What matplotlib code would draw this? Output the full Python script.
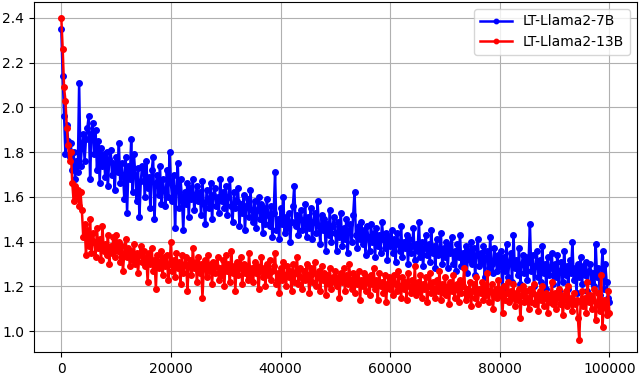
import numpy as np
import matplotlib
matplotlib.use('Agg')
import matplotlib.pyplot as plt

# logging steps (every 250 iterations)
steps = np.arange(0, 100001, 250)

# training loss, LT-Llama2-7B
loss_7b = [
    2.35, 2.14, 1.96, 1.79, 1.92, 1.85, 1.78, 1.84, 1.72, 1.80, 1.68, 1.76, 1.71, 2.11, 1.74, 1.82, 1.88, 1.76, 1.86, 1.91,
    1.96, 1.68, 1.88, 1.93, 1.79, 1.90, 1.72, 1.85, 1.66, 1.82, 1.74, 1.79, 1.69, 1.80, 1.65, 1.77, 1.81, 1.70, 1.75, 1.63,
    1.78, 1.71, 1.84, 1.66, 1.75, 1.70, 1.59, 1.78, 1.53, 1.74, 1.68, 1.86, 1.62, 1.79, 1.70, 1.58, 1.73, 1.51, 1.67, 1.74,
    1.71, 1.60, 1.76, 1.64, 1.69, 1.55, 1.72, 1.78, 1.50, 1.66, 1.70, 1.61, 1.74, 1.57, 1.68, 1.63, 1.56, 1.72, 1.60, 1.80,
    1.66, 1.58, 1.70, 1.46, 1.64, 1.75, 1.55, 1.68, 1.60, 1.45, 1.62, 1.57, 1.66, 1.51, 1.64, 1.59, 1.68, 1.54, 1.61, 1.65,
    1.58, 1.62, 1.52, 1.67, 1.57, 1.48, 1.63, 1.59, 1.55, 1.66, 1.50, 1.61, 1.64, 1.56, 1.60, 1.53, 1.68, 1.58, 1.62, 1.55,
    1.65, 1.52, 1.60, 1.68, 1.56, 1.49, 1.62, 1.55, 1.58, 1.64, 1.47, 1.57, 1.53, 1.61, 1.45, 1.56, 1.59, 1.51, 1.63, 1.54,
    1.49, 1.58, 1.46, 1.54, 1.60, 1.50, 1.57, 1.44, 1.55, 1.48, 1.59, 1.52, 1.47, 1.56, 1.42, 1.53, 1.71, 1.45, 1.50, 1.41,
    1.55, 1.48, 1.60, 1.44, 1.51, 1.46, 1.53, 1.40, 1.49, 1.56, 1.65, 1.47, 1.52, 1.43, 1.50, 1.54, 1.45, 1.48, 1.57, 1.42,
    1.51, 1.46, 1.55, 1.41, 1.49, 1.53, 1.44, 1.58, 1.47, 1.39, 1.52, 1.45, 1.50, 1.36, 1.48, 1.43, 1.54, 1.40, 1.47, 1.51,
    1.44, 1.36, 1.49, 1.42, 1.53, 1.38, 1.46, 1.41, 1.50, 1.35, 1.45, 1.48, 1.40, 1.52, 1.62, 1.43, 1.37, 1.47, 1.41, 1.49,
    1.39, 1.45, 1.34, 1.47, 1.42, 1.36, 1.48, 1.40, 1.44, 1.33, 1.46, 1.38, 1.43, 1.35, 1.49, 1.41, 1.37, 1.44, 1.32, 1.42,
    1.38, 1.45, 1.35, 1.41, 1.31, 1.44, 1.39, 1.36, 1.47, 1.33, 1.40, 1.37, 1.43, 1.30, 1.41, 1.35, 1.38, 1.46, 1.32, 1.39,
    1.36, 1.49, 1.33, 1.40, 1.29, 1.37, 1.43, 1.34, 1.39, 1.31, 1.45, 1.35, 1.38, 1.28, 1.41, 1.34, 1.36, 1.44, 1.30, 1.37,
    1.33, 1.40, 1.28, 1.38, 1.35, 1.42, 1.30, 1.36, 1.27, 1.39, 1.33, 1.43, 1.29, 1.35, 1.31, 1.38, 1.26, 1.36, 1.32, 1.40,
    1.30, 1.37, 1.25, 1.34, 1.41, 1.29, 1.35, 1.31, 1.38, 1.24, 1.33, 1.36, 1.28, 1.42, 1.30, 1.26, 1.37, 1.32, 1.27, 1.34,
    1.29, 1.36, 1.18, 1.33, 1.27, 1.39, 1.24, 1.31, 1.35, 1.22, 1.43, 1.28, 1.32, 1.25, 1.37, 1.21, 1.30, 1.34, 1.26, 1.33,
    1.23, 1.31, 1.48, 1.27, 1.34, 1.20, 1.29, 1.36, 1.24, 1.32, 1.22, 1.38, 1.26, 1.30, 1.19, 1.33, 1.25, 1.28, 1.35, 1.21,
    1.30, 1.24, 1.34, 1.18, 1.27, 1.31, 1.22, 1.36, 1.25, 1.29, 1.19, 1.32, 1.26, 1.40, 1.23, 1.28, 1.17, 1.30, 1.24, 1.33,
    1.21, 1.29, 1.25, 1.31, 1.18, 1.27, 1.30, 1.22, 1.26, 1.20, 1.39, 1.24, 1.28, 1.16, 1.25, 1.36, 1.19, 1.30, 1.22, 1.15,
    1.13,
]

# training loss, LT-Llama2-13B
loss_13b = [
    2.40, 2.26, 2.09, 2.03, 1.91, 1.83, 1.76, 1.80, 1.66, 1.58, 1.65, 1.60, 1.63, 1.56, 1.62, 1.54, 1.42, 1.48, 1.34, 1.45,
    1.38, 1.50, 1.35, 1.44, 1.40, 1.33, 1.46, 1.37, 1.41, 1.32, 1.47, 1.36, 1.39, 1.34, 1.43, 1.30, 1.38, 1.35, 1.42, 1.33,
    1.43, 1.36, 1.40, 1.31, 1.38, 1.27, 1.35, 1.41, 1.33, 1.37, 1.29, 1.36, 1.32, 1.39, 1.30, 1.35, 1.26, 1.34, 1.38, 1.31,
    1.36, 1.29, 1.33, 1.22, 1.35, 1.30, 1.37, 1.27, 1.32, 1.19, 1.34, 1.28, 1.31, 1.36, 1.25, 1.33, 1.29, 1.34, 1.23, 1.30,
    1.40, 1.27, 1.32, 1.24, 1.35, 1.28, 1.31, 1.21, 1.34, 1.26, 1.30, 1.33, 1.18, 1.29, 1.32, 1.25, 1.37, 1.28, 1.31, 1.22,
    1.33, 1.26, 1.30, 1.15, 1.28, 1.32, 1.24, 1.34, 1.27, 1.30, 1.21, 1.31, 1.26, 1.29, 1.33, 1.23, 1.28, 1.25, 1.32, 1.20,
    1.34, 1.27, 1.30, 1.22, 1.36, 1.26, 1.29, 1.18, 1.31, 1.25, 1.28, 1.33, 1.21, 1.30, 1.26, 1.29, 1.23, 1.35, 1.24, 1.28,
    1.22, 1.31, 1.26, 1.29, 1.19, 1.27, 1.33, 1.24, 1.28, 1.20, 1.30, 1.25, 1.32, 1.23, 1.27, 1.29, 1.35, 1.21, 1.26, 1.17,
    1.28, 1.23, 1.31, 1.25, 1.20, 1.29, 1.24, 1.27, 1.18, 1.30, 1.22, 1.26, 1.33, 1.21, 1.28, 1.24, 1.19, 1.27, 1.23, 1.30,
    1.25, 1.17, 1.28, 1.22, 1.26, 1.31, 1.20, 1.24, 1.27, 1.18, 1.29, 1.23, 1.26, 1.16, 1.25, 1.21, 1.28, 1.19, 1.24, 1.22,
    1.27, 1.20, 1.24, 1.15, 1.26, 1.22, 1.28, 1.18, 1.25, 1.21, 1.30, 1.23, 1.19, 1.26, 1.17, 1.24, 1.21, 1.27, 1.14, 1.23,
    1.20, 1.26, 1.18, 1.24, 1.22, 1.16, 1.25, 1.21, 1.28, 1.19, 1.23, 1.14, 1.26, 1.20, 1.22, 1.17, 1.25, 1.13, 1.21, 1.24,
    1.19, 1.23, 1.16, 1.25, 1.21, 1.18, 1.27, 1.20, 1.15, 1.24, 1.19, 1.22, 1.14, 1.26, 1.20, 1.17, 1.23, 1.18, 1.29, 1.16,
    1.22, 1.18, 1.25, 1.15, 1.21, 1.19, 1.24, 1.13, 1.20, 1.26, 1.17, 1.22, 1.19, 1.15, 1.23, 1.18, 1.27, 1.14, 1.21, 1.17,
    1.24, 1.16, 1.20, 1.12, 1.22, 1.18, 1.25, 1.15, 1.19, 1.21, 1.13, 1.23, 1.17, 1.20, 1.28, 1.14, 1.19, 1.16, 1.22, 1.11,
    1.18, 1.21, 1.15, 1.24, 1.12, 1.19, 1.17, 1.22, 1.14, 1.20, 1.16, 1.26, 1.13, 1.18, 1.21, 1.10, 1.17, 1.19, 1.15, 1.23,
    1.16, 1.19, 1.08, 1.20, 1.14, 1.17, 1.22, 1.13, 1.18, 1.15, 1.21, 1.11, 1.17, 1.14, 1.19, 1.06, 1.16, 1.20, 1.13, 1.18,
    1.15, 1.10, 1.19, 1.13, 1.17, 1.21, 1.12, 1.16, 1.09, 1.18, 1.14, 1.20, 1.11, 1.15, 1.17, 1.08, 1.16, 1.13, 1.22, 1.12,
    1.17, 1.10, 1.15, 1.19, 1.12, 1.16, 1.07, 1.14, 1.18, 1.11, 1.20, 1.13, 1.15, 1.09, 1.17, 1.12, 1.14, 1.06, 0.96, 1.13,
    1.18, 1.11, 1.15, 1.08, 1.22, 1.13, 1.16, 1.10, 1.14, 1.19, 1.05, 1.12, 1.17, 1.09, 1.25, 1.02, 1.14, 1.11, 1.07, 1.18,
    1.08,
]

xticks = [0, 20000, 40000, 60000, 80000, 100000]
yticks = [1.0, 1.2, 1.4, 1.6, 1.8, 2.0, 2.2, 2.4]

fig, ax = plt.subplots(figsize=(6.4, 3.75), dpi=100)
fig.subplots_adjust(left=0.053, right=0.995, bottom=0.061, top=0.995)

ax.plot(steps, loss_7b, color='b', marker='o', markersize=4, lw=1.8,
        label='LT-Llama2-7B')
ax.plot(steps, loss_13b, color='r', marker='o', markersize=4, lw=1.8,
        label='LT-Llama2-13B')

ax.set_xlim(-5000, 105000)
ax.set_ylim(0.906, 2.472)
ax.set_xticks(xticks)
ax.set_xticklabels([str(t) for t in xticks])
ax.set_yticks(yticks)
ax.grid(True)
ax.legend(loc='upper right', markerscale=0.8, handlelength=2.3)

plt.savefig('out.png', dpi=100)
